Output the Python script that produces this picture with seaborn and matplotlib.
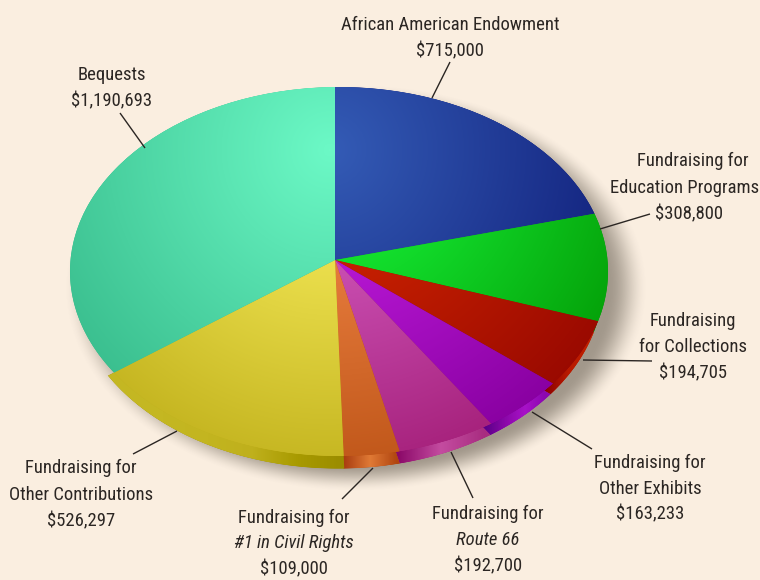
"""
plot.py

Fundraising sources shown as a tilted pie with a raised edge and drop shadow.
Saves out.png.
"""

import matplotlib
matplotlib.use("Agg")
import matplotlib.pyplot as plt
import numpy as np
import seaborn as sns
from matplotlib.patches import Ellipse
from matplotlib.transforms import Affine2D

sources = [
    "African American Endowment", "Education Programs", "Collections", "Other Exhibits",
    "Route 66", "#1 in Civil Rights", "Other Contributions", "Bequests",
]
amounts = [715000, 308800, 194705, 163233, 192700, 109000, 526297, 1190693]

top_light = ["#345CB6", "#1AFF40", "#DC2B00", "#CD22EC", "#DC66CE", "#FA8E4E", "#FFF564", "#6CF9C6"]
top_dark = ["#0F1C78", "#04A008", "#990900", "#8800A0", "#A5207A", "#BE5518", "#C3B31E", "#38BC8C"]
# None: that slice has no visible edge
edge_stops = [
    None,
    ["#04A008", "#04A008"],
    ["#8A0000", "#B81A00", "#C02000"],
    ["#5A0088", "#8A08A8", "#A812C8", "#8C08B0"],
    ["#8A0868", "#C44CA0", "#A82C80"],
    ["#A83C10", "#E07A35", "#B04510"],
    ["#C4B722", "#C4B722", "#C3B520", "#BFB01C", "#A89A00", "#9A8C00"],
    None,
]

# label text, one entry per line: (text, italic, x, y) in pixels, y is the baseline
label_lines = [
    ("African American Endowment", False, 450, 30), ("$715,000", False, 450, 56),
    ("Bequests", False, 112, 80), ("$1,190,693", False, 112, 106),
    ("Fundraising for", False, 693, 166), ("Education Programs", False, 685, 193), ("$308,800", False, 689, 219),
    ("Fundraising", False, 693, 326), ("for Collections", False, 693, 352), ("$194,705", False, 693, 378),
    ("Fundraising for", False, 650, 468), ("Other Exhibits", False, 650, 494), ("$163,233", False, 650, 519),
    ("Fundraising for", False, 488, 519), ("Route 66", True, 488, 545), ("$192,700", False, 488, 571),
    ("Fundraising for", False, 294, 523), ("#1 in Civil Rights", True, 294, 548), ("$109,000", False, 294, 574),
    ("Fundraising for", False, 81, 473), ("Other Contributions", False, 81, 500), ("$526,297", False, 81, 526),
]
leaders = [
    ((450, 432), (62, 98)), ((120, 145), (113, 148)), ((650, 600), (214, 229)), ((583, 652), (360, 361)),
    ((532, 592), (412, 449)), ((451, 473), (452, 498)), ((373, 342), (468, 499)), ((177, 133), (431, 454)),
]

W, H = 760, 580
BG = "#FAEEE0"
APEX_X, APEX_Y = 335, 260  # where the slices meet
SCALE_X, SCALE_Y = 270, 189
TOP_FACE = (339, 271.5, 269, 184.5)  # centre x, centre y, radius x, radius y
EDGE_FACE = (338, 284, 265, 184.5)
SHADOW = (356, 288, 272, 190)
HIGHLIGHT = (330, 150)

sns.set_theme(style="white", rc={"figure.facecolor": BG, "axes.facecolor": BG})
plt.rcParams["font.family"] = ["Roboto Condensed", "Roboto", "DejaVu Sans"]


def data_x(x):
    return (x - APEX_X) / SCALE_X


def data_y(y):
    return (APEX_Y - y) / SCALE_Y


def ellipse_patch(ax, face):
    cx, cy, rx, ry = face
    return Ellipse((data_x(cx), data_y(cy)), 2 * rx / SCALE_X, 2 * ry / SCALE_Y, transform=ax.transData)


def ellipse_alpha(xx, yy, face, blur=1.0):
    # soft inside/outside mask, blur is the width of the ramp in pixels
    cx, cy, rx, ry = face
    q = np.sqrt(((xx - cx) / rx) ** 2 + ((yy - cy) / ry) ** 2)
    dist = (1 - q) * (rx + ry) / 2
    t = np.clip(dist / blur + 0.5, 0, 1)
    return t * t * (3 - 2 * t)


def paint(ax, rgba, wedge, zorder):
    im = ax.imshow(rgba, extent=(data_x(0), data_x(W), data_y(H), data_y(0)), origin="upper",
                   aspect="auto", interpolation="nearest", zorder=zorder)
    if wedge is not None:
        im.set_clip_path(wedge)


fig = plt.figure(figsize=(W / 100, H / 100), dpi=100)
ax = fig.add_axes([0, 0, 1, 1])
xx, yy = np.meshgrid(np.arange(W) + 0.5, np.arange(H) + 0.5)

# drop shadow
shadow = np.zeros((H, W, 4))
shadow[..., :3] = matplotlib.colors.to_rgb("#4A4236")
shadow[..., 3] = 0.5 * ellipse_alpha(xx, yy, SHADOW, blur=34)
paint(ax, shadow, None, 1)

# raised edge: same slices pushed down, only the part below the top face shows
edge_wedges, _ = ax.pie(amounts, startangle=90, counterclock=False, radius=1.3,
                        center=(0, data_y(APEX_Y + 12)), colors=top_dark,
                        wedgeprops={"linewidth": 0, "zorder": 2})
# keep the left end of the yellow edge on the top face's boundary, avoids a notch
edge_wedges[6].set_center((0, 0))
edge_mask = ellipse_alpha(xx, yy, EDGE_FACE)
for wedge, stops in zip(edge_wedges, edge_stops):
    if stops is None:
        wedge.set_visible(False)
        continue
    wedge.set_facecolor(stops[-1])
    # pie turns clipping off on its wedges
    wedge.set_clip_on(True)
    wedge.set_clip_path(ellipse_patch(ax, EDGE_FACE))
    a1, a2 = np.radians(90 - wedge.theta2), np.radians(90 - wedge.theta1)
    x1, x2 = sorted([APEX_X + SCALE_X * np.sin(a1), APEX_X + SCALE_X * np.sin(a2)])
    cmap = sns.blend_palette(stops, as_cmap=True)
    rgba = cmap(np.clip((xx - x1) / max(x2 - x1, 1), 0, 1))
    rgba[..., 3] = edge_mask
    paint(ax, rgba, wedge, 3)

# top face
top_wedges, _ = ax.pie(amounts, startangle=90, counterclock=False, radius=1.3,
                       center=(0, 0), colors=top_dark,
                       wedgeprops={"linewidth": 0, "zorder": 4})
top_mask = ellipse_alpha(xx, yy, TOP_FACE)
glow = np.clip(np.hypot(xx - HIGHLIGHT[0], yy - HIGHLIGHT[1]) / 330, 0, 1)
for wedge, light, dark in zip(top_wedges, top_light, top_dark):
    wedge.set_clip_on(True)
    wedge.set_clip_path(ellipse_patch(ax, TOP_FACE))
    rgba = sns.blend_palette([light, dark], as_cmap=True)(glow)
    rgba[..., 3] = top_mask
    paint(ax, rgba, wedge, 5)

# labels and leader lines live in pixel space
px = Affine2D().scale(1, -1).translate(0, H)
for xs, ys in leaders:
    ax.plot(xs, ys, color="#2B2623", lw=1.0, transform=px, zorder=6, solid_capstyle="butt")
for text, italic, x, y in label_lines:
    ax.text(x, y, text, transform=px, ha="center", va="baseline", fontsize=13.4, color="#2B2623",
            style="italic" if italic else "normal", zorder=7)

ax.set_aspect("auto")
ax.set_xlim(data_x(0), data_x(W))
ax.set_ylim(data_y(H), data_y(0))
ax.set_axis_off()

fig.savefig("out.png", dpi=100, facecolor=BG)
plt.close(fig)
